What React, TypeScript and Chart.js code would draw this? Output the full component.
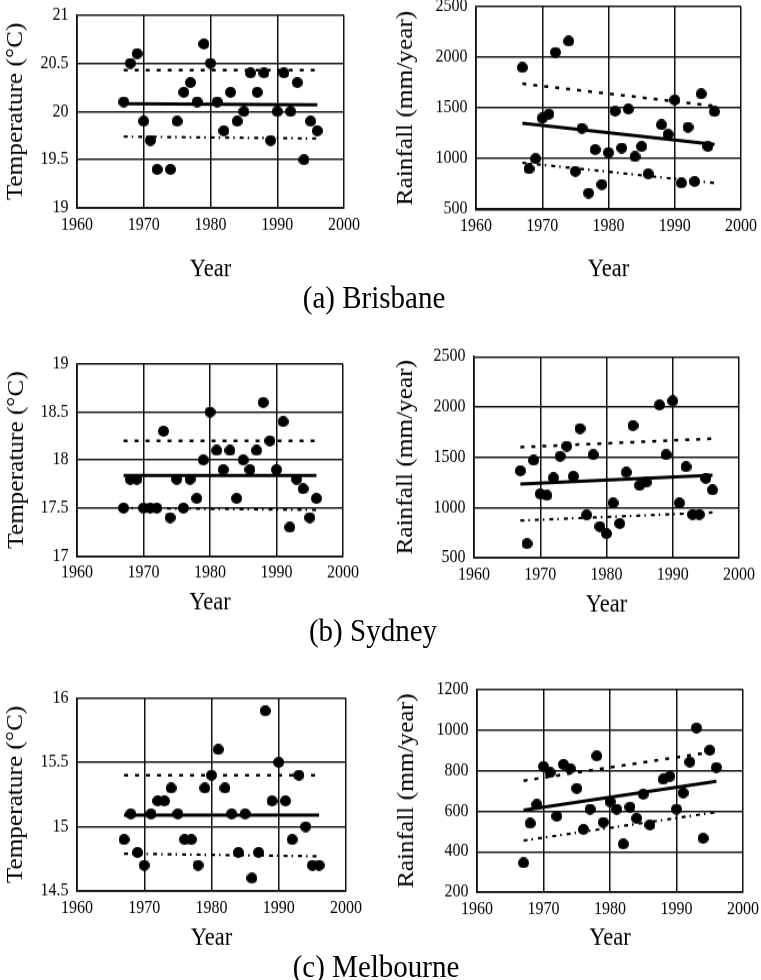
import React, { useEffect, useRef } from 'react';
import { Chart, registerables } from 'chart.js';
Chart.register(...registerables);

// ---------------- data ----------------
const trendYears = [1967, 1996];

// Brisbane
const brisTempYears = [1967, 1968, 1969, 1970, 1971, 1972, 1974, 1975, 1976, 1977, 1978, 1979, 1980, 1981, 1982, 1983, 1984, 1985, 1986, 1987, 1988, 1989, 1990, 1991, 1992, 1993, 1994, 1995, 1996];
const brisTemp = [20.1, 20.5, 20.6, 19.9, 19.7, 19.4, 19.4, 19.9, 20.2, 20.3, 20.1, 20.7, 20.5, 20.1, 19.8, 20.2, 19.9, 20.0, 20.4, 20.2, 20.4, 19.7, 20.0, 20.4, 20.0, 20.3, 19.5, 19.9, 19.8];
const brisTempMean = [20.08, 20.07];
const brisTempUpper = [20.43, 20.43];
const brisTempLower = [19.74, 19.72];

const brisRainYears = [1967, 1968, 1969, 1970, 1971, 1972, 1974, 1975, 1976, 1977, 1978, 1979, 1980, 1981, 1982, 1983, 1984, 1985, 1986, 1988, 1989, 1990, 1991, 1992, 1993, 1994, 1995, 1996];
const brisRain = [1900, 900, 1000, 1400, 1440, 2050, 2160, 875, 1300, 660, 1090, 745, 1060, 1470, 1105, 1490, 1020, 1120, 850, 1335, 1240, 1580, 760, 1310, 775, 1640, 1120, 1465];
const brisRainMean = [1350, 1140];
const brisRainUpper = [1740, 1520];
const brisRainLower = [960, 760];

// Sydney
const sydTempYears = [1967, 1968, 1969, 1970, 1971, 1972, 1973, 1974, 1975, 1976, 1977, 1978, 1979, 1980, 1981, 1982, 1983, 1984, 1985, 1986, 1987, 1988, 1989, 1990, 1991, 1992, 1993, 1994, 1995, 1996];
const sydTemp = [17.5, 17.8, 17.8, 17.5, 17.5, 17.5, 18.3, 17.4, 17.8, 17.5, 17.8, 17.6, 18.0, 18.5, 18.1, 17.9, 18.1, 17.6, 18.0, 17.9, 18.1, 18.6, 18.2, 17.9, 18.4, 17.3, 17.8, 17.7, 17.4, 17.6];
const sydTempMean = [17.84, 17.84];
const sydTempUpper = [18.2, 18.2];
const sydTempLower = [17.5, 17.48];

const sydRainYears = [1967, 1968, 1969, 1970, 1971, 1972, 1973, 1974, 1975, 1976, 1977, 1978, 1979, 1980, 1981, 1982, 1983, 1984, 1985, 1986, 1988, 1989, 1990, 1991, 1992, 1993, 1994, 1995, 1996];
const sydRain = [1365, 640, 1470, 1135, 1120, 1295, 1510, 1610, 1310, 1785, 925, 1525, 810, 740, 1045, 840, 1350, 1815, 1220, 1250, 2020, 1525, 2060, 1045, 1405, 930, 930, 1290, 1175];
const sydRainMean = [1233, 1322];
const sydRainUpper = [1600, 1685];
const sydRainLower = [870, 950];

// Melbourne
const melTempYears = [1967, 1968, 1969, 1970, 1971, 1972, 1973, 1974, 1975, 1976, 1977, 1978, 1979, 1980, 1981, 1982, 1983, 1984, 1985, 1986, 1987, 1988, 1989, 1990, 1991, 1992, 1993, 1994, 1995, 1996];
const melTemp = [14.9, 15.1, 14.8, 14.7, 15.1, 15.2, 15.2, 15.3, 15.1, 14.9, 14.9, 14.7, 15.3, 15.4, 15.6, 15.3, 15.1, 14.8, 15.1, 14.6, 14.8, 15.9, 15.2, 15.5, 15.2, 14.9, 15.4, 15.0, 14.7, 14.7];
const melTempMean = [15.09, 15.09];
const melTempUpper = [15.4, 15.4];
const melTempLower = [14.79, 14.77];

const melRainYears = [1967, 1968, 1969, 1970, 1971, 1972, 1973, 1974, 1975, 1976, 1977, 1978, 1979, 1980, 1981, 1982, 1983, 1984, 1985, 1986, 1988, 1989, 1990, 1991, 1992, 1993, 1994, 1995, 1996];
const melRain = [345, 540, 632, 820, 790, 575, 830, 810, 712, 510, 610, 872, 545, 647, 610, 438, 620, 565, 683, 532, 757, 771, 610, 690, 842, 1010, 466, 900, 815];
const melRainMean = [605, 747];
const melRainUpper = [750, 895];
const melRainLower = [455, 595];

const xTicks = { min: 1960, max: 2000, step: 10 };
const tempTitle = 'Temperature (°C)';
const rainTitle = 'Rainfall (mm/year)';
const xTitle = 'Year';
const captions = ['(a) Brisbane', '(b) Sydney', '(c) Melbourne'];

// ---------------- layout ----------------
const S = 1.1; // vertical stretch of the whole figure
const FONT = 'Liberation Serif';
const TICK_SIZE = 16;
const YT_SIZE = 23;
const XT_SIZE = 22.5;
const DOT = 11;

type Box = { L: number; plotLeft: number; plotRight: number; plotTop: number; plotBottom: number; yTitleCX: number; yearCY: number };
type Panel = {
  years: number[]; values: number[]; mean: number[]; upper: number[]; lower: number[];
  yMin: number; yMax: number; yStep: number; yTitle: string; box: Box;
};

const panels: Panel[] = [
  { years: brisTempYears, values: brisTemp, mean: brisTempMean, upper: brisTempUpper, lower: brisTempLower, yMin: 19, yMax: 21, yStep: 0.5, yTitle: tempTitle,
    box: { L: 0, plotLeft: 77, plotRight: 344, plotTop: 15 / S, plotBottom: 208 / S, yTitleCX: 16, yearCY: 270 / S } },
  { years: brisRainYears, values: brisRain, mean: brisRainMean, upper: brisRainUpper, lower: brisRainLower, yMin: 500, yMax: 2500, yStep: 500, yTitle: rainTitle,
    box: { L: 380, plotLeft: 476, plotRight: 741, plotTop: 6.7 / S, plotBottom: 209.3 / S, yTitleCX: 406, yearCY: 270 / S } },
  { years: sydTempYears, values: sydTemp, mean: sydTempMean, upper: sydTempUpper, lower: sydTempLower, yMin: 17, yMax: 19, yStep: 0.5, yTitle: tempTitle,
    box: { L: 0, plotLeft: 77, plotRight: 343, plotTop: 364 / S, plotBottom: 556 / S, yTitleCX: 16.5, yearCY: 603 / S } },
  { years: sydRainYears, values: sydRain, mean: sydRainMean, upper: sydRainUpper, lower: sydRainLower, yMin: 500, yMax: 2500, yStep: 500, yTitle: rainTitle,
    box: { L: 380, plotLeft: 474, plotRight: 739, plotTop: 356.7 / S, plotBottom: 557.7 / S, yTitleCX: 406, yearCY: 605 / S } },
  { years: melTempYears, values: melTemp, mean: melTempMean, upper: melTempUpper, lower: melTempLower, yMin: 14.5, yMax: 16, yStep: 0.5, yTitle: tempTitle,
    box: { L: 0, plotLeft: 77, plotRight: 346, plotTop: 698 / S, plotBottom: 891 / S, yTitleCX: 16, yearCY: 938 / S } },
  { years: melRainYears, values: melRain, mean: melRainMean, upper: melRainUpper, lower: melRainLower, yMin: 200, yMax: 1200, yStep: 200, yTitle: rainTitle,
    box: { L: 380, plotLeft: 477, plotRight: 743, plotTop: 689.3 / S, plotBottom: 892.3 / S, yTitleCX: 406.5, yearCY: 938 / S } },
];

const captionPos = [
  { cx: 374, cy: 297 },
  { cx: 373, cy: 631 },
  { cx: 376, cy: 966 },
];

function geom(b: Box) {
  const padT = 14;
  const top = Math.floor(b.plotTop - padT);
  const padTop = b.plotTop - top;
  const plotH = b.plotBottom - b.plotTop;
  const Hx = b.yearCY - b.plotBottom + (XT_SIZE * 1.2) / 2;
  const H = Math.ceil(padTop + plotH + Hx + 2);
  const padBottom = H - padTop - plotH - Hx;
  const right = Math.min(b.plotRight + 22, 761);
  const W = right - b.L;
  const padRight = right - b.plotRight;
  const padLeft = b.yTitleCX - b.L - (YT_SIZE * 1.2) / 2;
  const Wy = b.plotLeft - b.L - padLeft;
  return { top, W, H, padTop, padBottom, padLeft, padRight, Hx, Wy };
}

function makeDot() {
  const c = document.createElement('canvas');
  c.width = DOT;
  c.height = Math.ceil(DOT / S);
  const ctx = c.getContext('2d')!;
  ctx.fillStyle = '#000';
  ctx.beginPath();
  ctx.ellipse(c.width / 2, c.height / 2, DOT / 2, Math.min(DOT / 2 / S, c.height / 2), 0, 0, Math.PI * 2);
  ctx.fill();
  return c;
}

function ChartPanel({ p }: { p: Panel }) {
  const ref = useRef<HTMLCanvasElement>(null);
  const g = geom(p.box);
  useEffect(() => {
    if (!ref.current) return;
    const dot = makeDot();
    const line = (vals: number[]) => trendYears.map((x, i) => ({ x, y: vals[i] }));
    const chart = new Chart(ref.current, {
      type: 'scatter',
      data: {
        datasets: [
          { data: p.years.map((x, i) => ({ x, y: p.values[i] })), pointStyle: dot as any, pointRadius: 5.5, showLine: false, order: 0 } as any,
          { data: line(p.mean), showLine: true, borderColor: '#000', borderWidth: 3, pointRadius: 0, order: 1 },
          { data: line(p.upper), showLine: true, borderColor: '#000', borderWidth: 2.5, borderDash: [4, 7], pointRadius: 0, order: 2 },
          { data: line(p.lower), showLine: true, borderColor: '#000', borderWidth: 2.2, borderDash: [4, 4, 1.5, 5], pointRadius: 0, order: 3 },
        ],
      },
      options: {
        animation: false,
        responsive: false,
        events: [],
        layout: { padding: { left: g.padLeft, right: g.padRight, top: g.padTop, bottom: g.padBottom } },
        plugins: { legend: { display: false }, tooltip: { enabled: false } },
        scales: {
          x: {
            type: 'linear',
            min: xTicks.min,
            max: xTicks.max,
            ticks: { stepSize: xTicks.step, callback: (v: any) => String(v), font: { family: FONT, size: TICK_SIZE }, color: '#000', padding: 6, maxRotation: 0 },
            grid: { color: '#111', lineWidth: 1.5, drawTicks: false },
            border: { color: '#111', width: 1.7 },
            title: { display: true, text: xTitle, font: { family: FONT, size: XT_SIZE }, color: '#000', padding: 0 },
            afterFit: (s: any) => { s.height = g.Hx; s.paddingLeft = 0; s.paddingRight = 0; },
          },
          y: {
            type: 'linear',
            min: p.yMin,
            max: p.yMax,
            ticks: { stepSize: p.yStep, callback: (v: any) => String(v), font: { family: FONT, size: TICK_SIZE }, color: '#000', padding: 8.5 },
            grid: { color: '#111', lineWidth: 1.5, drawTicks: false },
            border: { color: '#111', width: 1.7 },
            title: { display: true, text: p.yTitle, font: { family: FONT, size: YT_SIZE }, color: '#000', padding: 0 },
            afterFit: (s: any) => { s.width = g.Wy; s.paddingTop = 0; s.paddingBottom = 0; },
          },
        },
      } as any,
    });
    return () => chart.destroy();
  }, []);
  return (
    <canvas
      ref={ref}
      width={g.W}
      height={g.H}
      style={{ position: 'absolute', left: p.box.L, top: g.top, width: g.W, height: g.H }}
    />
  );
}

export default function App() {
  const capSize = 29;
  const capLH = capSize * 1.2;
  return (
    <div style={{ position: 'absolute', left: 0, top: 0, width: 761, height: 980, overflow: 'hidden', background: '#fff' }}>
      <div style={{ position: 'absolute', left: 0, top: 0, width: 761, height: 980 / S, transform: `scaleY(${S})`, transformOrigin: '0 0' }}>
        {panels.map((p, i) => <ChartPanel key={i} p={p} />)}
        {captions.map((c, i) => (
          <div key={c} style={{
            position: 'absolute', left: captionPos[i].cx - 200, width: 400, top: captionPos[i].cy / S - capLH / 2,
            textAlign: 'center', fontFamily: FONT, fontSize: capSize, lineHeight: `${capLH}px`, color: '#000', whiteSpace: 'nowrap',
          }}>{c}</div>
        ))}
      </div>
    </div>
  );
}
